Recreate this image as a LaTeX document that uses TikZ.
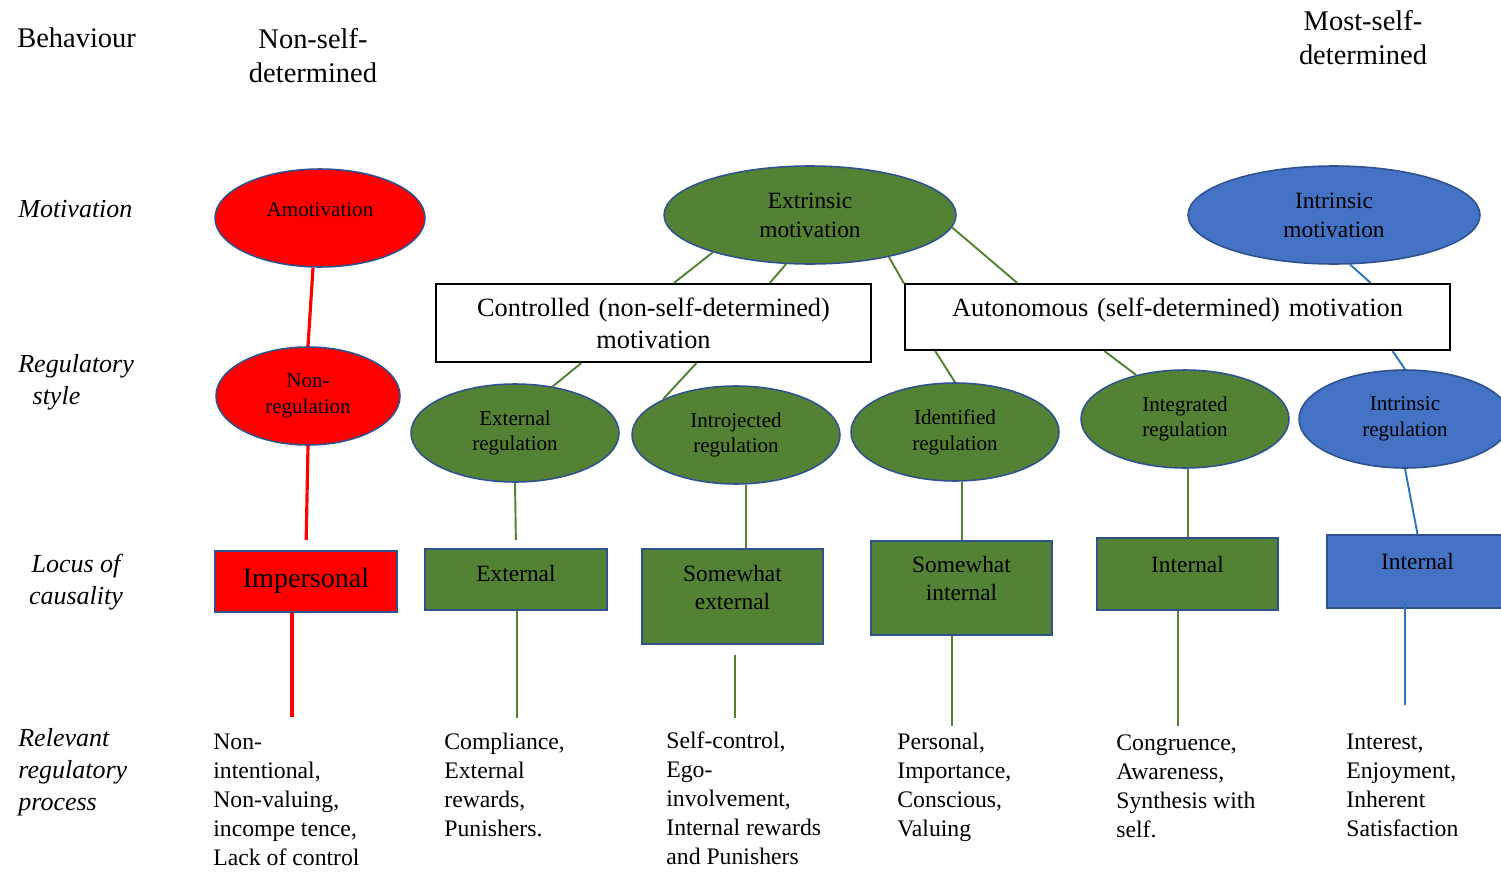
\documentclass[tikz,border=0pt]{standalone}
\usepackage{fontspec}
\setmainfont{Liberation Serif}
\usetikzlibrary{shapes.geometric}
\definecolor{greenfill}{HTML}{548235}
\definecolor{bluefill}{HTML}{4472C4}
\definecolor{rim}{HTML}{2F528F}
\definecolor{blueline}{HTML}{2E75B6}

\begin{document}
\begin{tikzpicture}[x=0.02cm, y=-0.02cm,
    oval/.style={ellipse, draw=rim, line width=0.9pt, inner sep=0pt, minimum height=1.96cm, align=center, font=\fontsize{12}{14.7}\selectfont},
    bigoval/.style={oval, font=\fontsize{13.3}{16.4}\selectfont},
    locus/.style={rectangle, draw=rim, line width=1.2pt, inner sep=0pt, align=center, anchor=north, font=\fontsize{13.3}{16.4}\selectfont},
    bandbox/.style={rectangle, draw=black, line width=1.2pt, fill=white, inner sep=0pt, align=center, anchor=north, font=\fontsize{15}{18.7}\selectfont},
    heading/.style={anchor=base, align=center, inner sep=0pt, font=\fontsize{16.2}{19.3}\selectfont},
    rowlabel/.style={anchor=base west, align=left, inner sep=0pt, font=\fontsize{14.8}{18.1}\selectfont\itshape},
    process/.style={anchor=base west, align=left, inner sep=0pt, font=\fontsize{13.5}{16.4}\selectfont},
    redlink/.style={draw=red, line width=1.8pt},
    greenlink/.style={draw=greenfill, line width=1.1pt},
    bluelink/.style={draw=blueline, line width=1.1pt}]
    \useasboundingbox (0,0) rectangle (1501,872);

    % headings (multi-line nodes sit on their last line)
    \node[heading, anchor=base west] (behaviour) at (17,48) {Behaviour};
    \node[heading] (nonself) at (313,82) {Non-self-\\determined};
    \node[heading] (mostself) at (1363,64) {Most-self-\\determined};

    % row labels
    \node[rowlabel] (motivation) at (18,217) {Motivation};
    \node[rowlabel] (regstyle) at (18,404) {Regulatory\\\hspace*{0.55em}style};
    \node[rowlabel, anchor=base, align=center] (locus) at (76,604) {Locus of\\causality};
    \node[rowlabel] (relevant) at (18,810) {Relevant\\regulatory\\process};

    % motivation
    \node[oval, fill=red, minimum width=4.2cm, text depth=0.32cm] (amot) at (320,218) {Amotivation};
    \node[bigoval, fill=greenfill, minimum width=5.84cm] (extr) at (810,215) {Extrinsic\\motivation};
    \node[bigoval, fill=bluefill, minimum width=5.84cm] (intr) at (1334,215) {Intrinsic\\motivation};

    \node[bandbox, text width=8.7cm, text height=0.64cm, text depth=0.92cm] (ctrl) at (653.5,283) {Controlled (non-self-determined)\\motivation};
    \node[bandbox, text width=10.9cm, text height=0.64cm, text depth=0.68cm] (auto) at (1177.5,283) {Autonomous (self-determined) motivation};

    % regulatory style
    \node[oval, fill=red, minimum width=3.68cm] (nonreg) at (308,396) {Non-\\regulation};
    \node[oval, fill=greenfill, minimum width=4.16cm] (extreg) at (515,433) {External\\regulation};
    \node[oval, fill=greenfill, minimum width=4.16cm] (introreg) at (736,435) {Introjected\\regulation};
    \node[oval, fill=greenfill, minimum width=4.16cm] (identreg) at (955,432) {Identified\\regulation};
    \node[oval, fill=greenfill, minimum width=4.16cm] (integreg) at (1185,419) {Integrated\\regulation};
    \node[oval, fill=bluefill, minimum width=4.24cm] (intrreg) at (1405,419) {Intrinsic\\regulation};

    % locus of causality
    \node[locus, fill=red, font=\fontsize{16}{19}\selectfont, text width=3.64cm, text height=0.73cm, text depth=0.49cm] (imp) at (306,550) {Impersonal};
    \node[locus, fill=greenfill, text width=3.64cm, text height=0.64cm, text depth=0.58cm] (ext) at (516,548) {External};
    \node[locus, fill=greenfill, text width=3.62cm, text height=0.64cm, text depth=1.26cm] (swext) at (732.5,548) {Somewhat\\external};
    \node[locus, fill=greenfill, text width=3.62cm, text height=0.62cm, text depth=1.26cm] (swint) at (961.5,540) {Somewhat\\internal};
    \node[locus, fill=greenfill, text width=3.62cm, text height=0.68cm, text depth=0.76cm] (intg) at (1187.5,537) {Internal};
    \node[locus, fill=bluefill, text width=3.62cm, text height=0.68cm, text depth=0.78cm] (intb) at (1417.5,534) {Internal};

    % regulatory process
    \node[process] (nonint) at (213,865) {Non-\\intentional,\\Non-valuing,\\incompe tence,\\Lack of control};
    \node[process] (compl) at (444,836) {Compliance,\\External\\rewards,\\Punishers.};
    \node[process] (selfc) at (666,864) {Self-control,\\Ego-\\involvement,\\Internal rewards\\and Punishers};
    \node[process] (pers) at (897,836) {Personal,\\Importance,\\Conscious,\\Valuing};
    \node[process] (congr) at (1116,837) {Congruence,\\Awareness,\\Synthesis with\\self.};
    \node[process] (inter) at (1346,836) {Interest,\\Enjoyment,\\Inherent\\Satisfaction};

    \coordinate (e1) at (292,717);
    \coordinate (e2) at (517,718);
    \coordinate (e3) at (735,718);
    \coordinate (e4) at (952,726);
    \coordinate (e5) at (1178,726);
    \coordinate (e6) at (1405,705);

    % connectors
    \draw[redlink] (amot.-98) -- (nonreg.north);
    \draw[redlink, shorten >=0.2cm] (nonreg.south) -- (imp.north);
    \draw[redlink] (imp.south -| e1) -- (e1);

    \draw[greenlink] (extr.-159) -- (ctrl.63);
    \draw[greenlink] (extr.-116) -- (ctrl.19);
    \draw[greenlink] (ctrl.-151) -- (extreg.51);
    \draw[greenlink] (ctrl.-43) -- (introreg.154);
    \draw[greenlink] (extr.-28) -- (auto.173);
    \draw[greenlink] (extr.-5) -- (auto.168);
    \draw[greenlink] (auto.-172) -- (identreg.north);
    \draw[greenlink] (auto.-155) -- (integreg.138);
    \draw[bluelink] (intr.-72) -- (auto.10);
    \draw[bluelink] (auto.-9) -- (intrreg.north);

    \draw[greenlink, shorten >=0.16cm] (extreg.south) -- (ext.north);
    \draw[greenlink] (introreg.-79) -- (introreg.-79 |- swext.north);
    \draw[greenlink] (identreg.-82) -- (identreg.-82 |- swint.north);
    \draw[greenlink] (integreg.-87) -- (integreg.-87 |- intg.north);
    \draw[bluelink] (intrreg.south) -- (intb.north);

    \draw[greenlink] (ext.south -| e2) -- (e2);
    \draw[greenlink, shorten <=0.2cm] (swext.south -| e3) -- (e3);
    \draw[greenlink] (swint.south -| e4) -- (e4);
    \draw[greenlink] (intg.south -| e5) -- (e5);
    \draw[bluelink, shorten <=-0.14cm] (intb.south -| e6) -- (e6);
\end{tikzpicture}
\end{document}
